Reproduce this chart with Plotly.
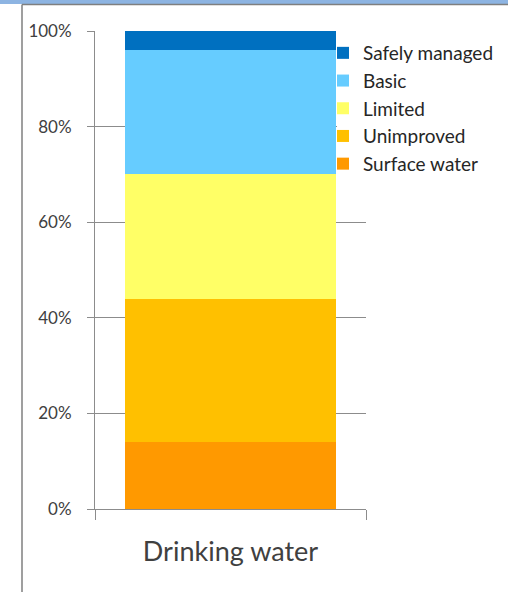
import plotly.graph_objects as go

# Drinking water service ladder (share of population)
categories = ["Drinking water"]
service_levels = ["Surface water", "Unimproved", "Limited", "Basic", "Safely managed"]
shares = {
    "Surface water": [0.14],
    "Unimproved": [0.30],
    "Limited": [0.26],
    "Basic": [0.26],
    "Safely managed": [0.04],
}
level_colors = {
    "Surface water": "#FF9900",
    "Unimproved": "#FFC000",
    "Limited": "#FFFF66",
    "Basic": "#66CCFF",
    "Safely managed": "#0070C0",
}
y_ticks = [0, 0.2, 0.4, 0.6, 0.8, 1.0]

FONT = "Lato"
GRID = "#8C8C8C"
W, H = 508, 592
L, R, T, B = 95, 142, 31, 83
pw, ph = W - L - R, H - T - B


def px_x(x):
    return (x - L) / pw


def px_y(y):
    return (H - B - y) / ph


fig = go.Figure()
for level in service_levels:
    fig.add_trace(go.Bar(
        x=categories,
        y=shares[level],
        name=level,
        marker=dict(color=level_colors[level], line=dict(width=0)),
        hoverinfo="name+y",
    ))

shapes = [
    # white backdrop behind the legend (hides the gridline, not the bar)
    dict(type="rect", xref="paper", yref="paper",
         x0=px_x(337), x1=px_x(W), y0=px_y(170), y1=px_y(42),
         fillcolor="white", line=dict(width=0), layer="above"),
    # window header band and frame
    dict(type="rect", xref="paper", yref="paper",
         x0=px_x(0), x1=px_x(W), y0=px_y(4), y1=px_y(-2),
         fillcolor="#8DB4E2", line=dict(width=0), layer="above"),
    dict(type="line", xref="paper", yref="paper",
         x0=px_x(22), x1=px_x(W), y0=px_y(4.5), y1=px_y(4.5),
         line=dict(color="#7F7F7F", width=1.5)),
    dict(type="line", xref="paper", yref="paper",
         x0=px_x(22), x1=px_x(22), y0=px_y(4.5), y1=px_y(H + 2),
         line=dict(color="#7F7F7F", width=1.5)),
]

fig.update_layout(
    width=W, height=H,
    margin=dict(l=L, r=R, t=T, b=B, pad=0, autoexpand=False),
    barmode="stack",
    bargap=0.225,
    paper_bgcolor="white",
    plot_bgcolor="white",
    font=dict(family=FONT, color="#404040"),
    shapes=shapes,
    showlegend=True,
    legend=dict(
        x=px_x(323), y=px_y(34), xanchor="left", yanchor="top",
        xref="paper", yref="paper",
        traceorder="reversed",
        bgcolor="rgba(0,0,0,0)",
        font=dict(family=FONT, size=19, color="#262626"),
        itemsizing="constant",
    ),
    xaxis=dict(
        range=[-0.5, 0.5],
        showgrid=False,
        showline=True,
        linecolor=GRID,
        linewidth=1,
        zeroline=False,
        tickson="boundaries",
        ticks="outside",
        ticklen=10,
        tickcolor=GRID,
        tickwidth=1,
        tickfont=dict(family=FONT, size=27, color="#404040"),
        ticklabelstandoff=19,
        fixedrange=True,
    ),
    yaxis=dict(
        range=[0, 1],
        tickvals=y_ticks,
        tickformat=".0%",
        showgrid=True,
        gridcolor=GRID,
        gridwidth=1,
        zeroline=False,
        showline=True,
        linecolor=GRID,
        linewidth=1,
        ticks="outside",
        ticklen=7,
        tickcolor=GRID,
        tickfont=dict(family=FONT, size=17, color="#404040"),
        ticklabelstandoff=12,
        fixedrange=True,
    ),
)

fig.write_html("out.html")
